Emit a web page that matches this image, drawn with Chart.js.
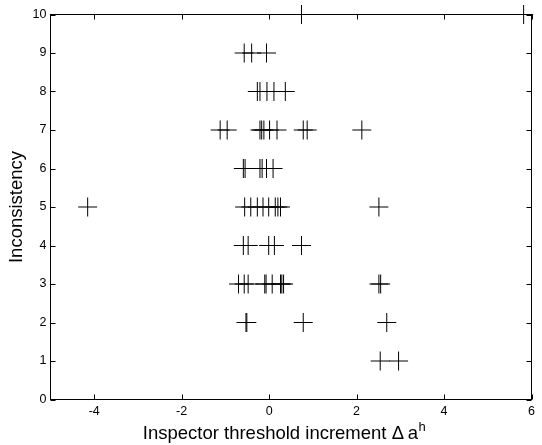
<!DOCTYPE html>
<html>
<head>
<meta charset="utf-8">
<script src="https://cdn.jsdelivr.net/npm/chart.js@4"></script>
<style>
  html, body { margin: 0; padding: 0; background: #fff; }
  canvas { display: block; }
</style>
</head>
<body>
<canvas id="scatter" width="542" height="445"></canvas>
<script>
// inspector threshold increments recorded at each inconsistency level
const level1 = [2.54, 2.96];
const level2 = [-0.53, -0.51, 0.78, 2.69];
const level3 = [-0.70, -0.57, -0.48, -0.10, -0.07, 0.07, 0.26, 0.29, 0.33, 2.51, 2.55];
const level4 = [-0.59, -0.48, -0.01, 0.12, 0.74];
const level5 = [-4.15, -0.56, -0.42, -0.27, -0.14, -0.01, 0.14, 0.20, 0.26, 2.51];
const level6 = [-0.59, -0.55, -0.21, -0.16, -0.06, 0.09];
const level7 = [-1.12, -0.96, -0.21, -0.17, -0.12, 0.01, 0.18, 0.78, 0.87, 2.12];
const level8 = [-0.27, -0.21, -0.05, 0.11, 0.37];
const level9 = [-0.57, -0.40, -0.06];
const level10 = [0.74, 5.82];

const levels = [1, 2, 3, 4, 5, 6, 7, 8, 9, 10];
const increments = [level1, level2, level3, level4, level5, level6, level7, level8, level9, level10];

const xTickValues = [-4, -2, 0, 2, 4, 6];
const yTickValues = [0, 1, 2, 3, 4, 5, 6, 7, 8, 9, 10];

const points = [];
levels.forEach((lvl, i) => {
    increments[i].forEach(v => points.push({ x: v, y: lvl }));
});

const FONT = '"Liberation Sans", Arial, Helvetica, sans-serif';

// box around the plot, inward ticks on all four sides, axis titles
const frame = {
    id: 'frame',
    beforeDatasetsDraw(chart) {
        const { ctx, chartArea: a, scales: { x, y } } = chart;
        const len = 5;
        ctx.save();
        ctx.strokeStyle = '#000';
        ctx.lineWidth = 1;
        ctx.strokeRect(a.left, a.top, a.right - a.left, a.bottom - a.top);
        ctx.beginPath();
        x.ticks.forEach(t => {
            const px = Math.round(x.getPixelForValue(t.value)) + 0.5;
            ctx.moveTo(px, a.bottom); ctx.lineTo(px, a.bottom - len);
            ctx.moveTo(px, a.top); ctx.lineTo(px, a.top + len);
        });
        y.ticks.forEach(t => {
            const py = Math.round(y.getPixelForValue(t.value)) + 0.5;
            ctx.moveTo(a.left, py); ctx.lineTo(a.left + len, py);
            ctx.moveTo(a.right, py); ctx.lineTo(a.right - len, py);
        });
        ctx.stroke();

        ctx.fillStyle = '#000';
        ctx.textBaseline = 'alphabetic';
        ctx.textAlign = 'left';

        // x title with superscript
        const main = 'Inspector threshold increment \u0394\u2009a';
        ctx.font = '18.5px ' + FONT;
        const w1 = ctx.measureText(main).width;
        ctx.font = '13px ' + FONT;
        const w2 = ctx.measureText('h').width;
        const start = 284 - (w1 + w2) / 2;
        ctx.font = '18.5px ' + FONT;
        ctx.fillText(main, start, 439);
        ctx.font = '13px ' + FONT;
        ctx.fillText('h', start + w1 + 0.5, 431);

        // y title
        ctx.translate(17, (a.top + a.bottom) / 2);
        ctx.rotate(-Math.PI / 2);
        ctx.font = '18.5px ' + FONT;
        ctx.textAlign = 'center';
        ctx.textBaseline = 'middle';
        ctx.fillText('Inconsistency', 0, 0);
        ctx.restore();
    }
};

new Chart(document.getElementById('scatter'), {
    type: 'scatter',
    data: {
        datasets: [{
            data: points,
            pointStyle: 'cross',
            pointRadius: 9.5,
            pointHoverRadius: 9.5,
            borderColor: '#000',
            backgroundColor: '#000',
            borderWidth: 1,
            clip: false
        }]
    },
    options: {
        responsive: false,
        animation: false,
        events: [],
        layout: { padding: { top: 14.5, right: 2.5, left: 0, bottom: 0 } },
        plugins: {
            legend: { display: false },
            tooltip: { enabled: false }
        },
        scales: {
            x: {
                type: 'linear',
                min: -5,
                max: 6,
                grid: { display: false, drawTicks: false },
                border: { display: false },
                ticks: {
                    color: '#000',
                    padding: 5,
                    maxRotation: 0,
                    font: { family: FONT, size: 12.5 }
                },
                afterBuildTicks(scale) {
                    scale.ticks = xTickValues.map(v => ({ value: v }));
                },
                afterFit(scale) {
                    scale.height = 45.5;
                    scale.paddingLeft = 0;
                    scale.paddingRight = 0;
                }
            },
            y: {
                type: 'linear',
                min: 0,
                max: 10,
                grid: { display: false, drawTicks: false },
                border: { display: false },
                ticks: {
                    color: '#000',
                    padding: 4,
                    font: { family: FONT, size: 12.5 }
                },
                afterBuildTicks(scale) {
                    scale.ticks = yTickValues.map(v => ({ value: v }));
                },
                afterFit(scale) {
                    scale.width = 50.5;
                    scale.paddingTop = 0;
                    scale.paddingBottom = 0;
                }
            }
        }
    },
    plugins: [frame]
});
</script>
</body>
</html>
